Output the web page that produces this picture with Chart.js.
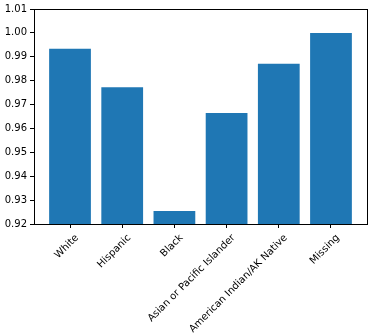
<!DOCTYPE html>
<html>
<head>
<meta charset="utf-8">
<script src="https://cdn.jsdelivr.net/npm/chart.js@4/dist/chart.umd.min.js"></script>
<style>
    body { margin: 0; background: #fff; }
</style>
</head>
<body>
<canvas id="raceChart" width="375" height="335"></canvas>
<script>
const groupNames = ['White', 'Hispanic', 'Black', 'Asian or Pacific Islander', 'American Indian/AK Native', 'Missing']
const groupValues = [0.9934, 0.9772, 0.9254, 0.9665, 0.9871, 1.0000]
const yTicks = [0.92, 0.93, 0.94, 0.95, 0.96, 0.97, 0.98, 0.99, 1.00, 1.01]

// draws the top and right spines too
const boxPlugin = {
    id: 'box',
    afterDraw(chart) {
        const a = chart.chartArea
        const ctx = chart.ctx
        ctx.save()
        ctx.strokeStyle = '#000'
        ctx.lineWidth = 1
        ctx.strokeRect(Math.round(a.left) + 0.5, Math.round(a.top) + 0.5, Math.round(a.right - a.left), Math.round(a.bottom - a.top))
        ctx.restore()
    }
}

Chart.defaults.font.family = 'DejaVu Sans'
Chart.defaults.font.size = 10
Chart.defaults.color = '#000'

new Chart(document.getElementById('raceChart'), {
    type: 'bar',
    data: {
        datasets: [{
            data: groupValues.map((v, i) => ({ x: i, y: v })),
            backgroundColor: '#1f77b4',
            borderWidth: 0,
            barPercentage: 0.8,
            categoryPercentage: 1.0
        }]
    },
    options: {
        responsive: false,
        animation: false,
        events: [],
        layout: { padding: { top: 7, right: 8, left: 0, bottom: 0 } },
        plugins: { legend: { display: false }, tooltip: { enabled: false } },
        scales: {
            x: {
                type: 'linear',
                offset: false,
                min: -0.69,
                max: 5.69,
                afterBuildTicks: axis => { axis.ticks = groupNames.map((_, i) => ({ value: i })) },
                afterFit: axis => { axis.height = 111 },
                grid: { offset: false, drawOnChartArea: false, drawTicks: true, tickLength: 4, color: '#000' },
                border: { display: true, color: '#000' },
                ticks: {
                    autoSkip: false,
                    minRotation: 45,
                    maxRotation: 45,
                    padding: 4,
                    labelOffset: 7,
                    callback: v => groupNames[v]
                }
            },
            y: {
                min: 0.92,
                max: 1.01,
                afterBuildTicks: axis => { axis.ticks = yTicks.map(v => ({ value: v })) },
                afterFit: axis => { axis.width = 34 },
                grid: { drawOnChartArea: false, drawTicks: true, tickLength: 4, color: '#000' },
                border: { display: true, color: '#000' },
                ticks: {
                    padding: 3,
                    callback: v => v.toFixed(2)
                }
            }
        }
    },
    plugins: [boxPlugin]
})
</script>
</body>
</html>
